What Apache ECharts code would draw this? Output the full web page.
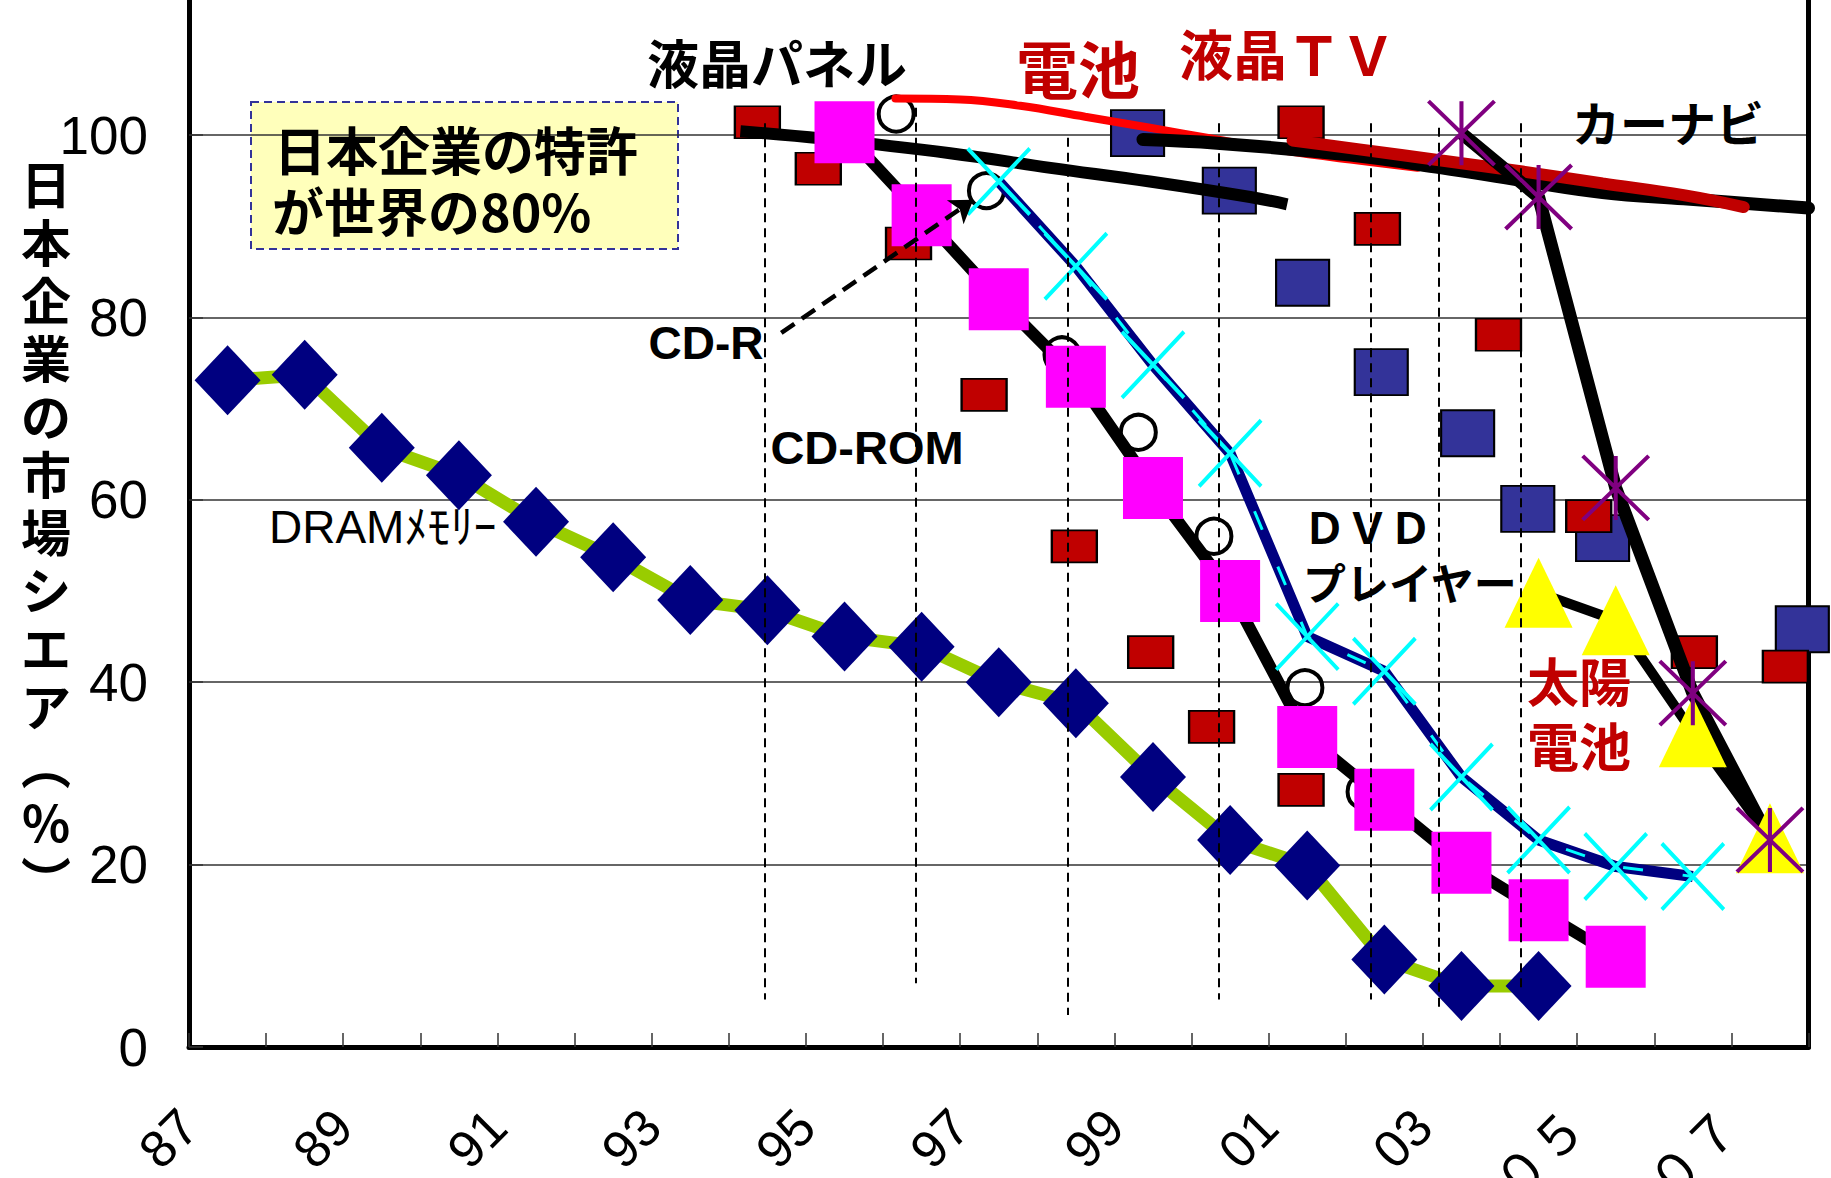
<!DOCTYPE html>
<html><head><meta charset="utf-8">
<script src="https://cdn.jsdelivr.net/npm/echarts@6/dist/echarts.min.js"></script>
<style>html,body{margin:0;padding:0;background:#fff}#c{width:1831px;height:1178px}</style>
</head><body><div id="c"></div>
<script>
// ---------- data ----------
const YEAR0 = 1986.5;               // left edge of the "87" slot on the x axis
const xTickLabels = ['87','89','91','93','95','97','99','01','03','０５','０７'];
const yTickLabels = ['0','20','40','60','80','100'];
const yAxisTitle = ['日','本','企','業','の','市','場','シ','エ','ア','︵','%','︶'];

const dramYears  = [1987,1988,1989,1990,1991,1992,1993,1994,1995,1996,1997,1998,1999,2000,2001,2002,2003,2004];
const dramShare  = [73.1,73.7,65.7,62.7,57.6,53.7,49.0,47.9,45.0,43.9,40.0,37.7,29.6,22.7,19.9,9.6,6.7,6.7];

const cdromYears = [1995,1996,1997,1998,1999,2000,2001,2002,2003,2004,2005];
const cdromShare = [100.3,91.2,82.0,73.5,61.3,50.0,34.0,27.1,20.2,15.0,9.9];

const dvdYears   = [1997,1998,1999,2000,2001,2002,2003,2004,2005,2006];
const dvdShare   = [94.9,85.6,74.8,65.1,45.0,41.2,29.6,22.7,19.8,18.7];

const naviYears  = [2003,2004,2005,2006,2007];
const naviShare  = [100.2,93.2,61.3,38.8,22.7];

const solarYears = [2004,2005,2006,2007];
const solarShare = [49.8,46.8,34.5,22.9];

const cdrYears   = [1995.67,1996.84,1997.82,1998.81,1999.79,2000.97,2001.75];
const cdrShare   = [102.3,93.9,75.9,67.4,56.0,39.4,28.0];

const redSqYears = [1993.87,1994.66,1995.83,1996.81,1997.98,1998.97,1999.76,2000.92,2000.92,2001.91,2003.48,2004.65,2006.02,2007.20];
const redSqShare = [101.4,96.3,88.1,71.5,54.9,43.3,35.1,28.2,101.4,89.7,78.1,58.2,43.3,41.7];

const blueSqYears = [1998.80,1999.99,2000.94,2001.96,2003.08,2003.86,2004.83,2007.42];
const blueSqShare = [100.2,93.9,83.8,74.0,67.3,59.0,55.8,45.8];

const lcdPanelYears = [1993.65,1994.72,1996.37,1997.67,1998.96,2000.26,2000.74];
const lcdPanelShare = [100.4,99.6,98.0,96.4,94.9,93.2,92.4];

const batteryYears = [1995.66,1996.5,1997.28,1998.12,1998.96,1999.83,2000.69,2001.56,2002.43];
const batteryShare = [104.0,103.9,103.2,102.0,100.8,99.5,98.3,97.3,96.4];

const naviFlatYears = [1998.87,1999.83,2001.56,2002.74,2003.79,2004.83,2005.88,2007.5];
const naviFlatShare = [99.5,99.1,97.8,96.4,95.0,93.7,93.0,92.0];

const lcdTvYears = [2000.81,2001.7,2002.74,2003.79,2004.83,2005.88,2006.66];
const lcdTvShare = [99.4,98.4,97.2,96.0,94.7,93.4,92.1];

const guideYears  = [1993.96,1995.93,1997.89,1999.85,2001.82,2002.70,2003.77];
const guideTop    = [101.3,103.0,99.7,101.3,101.3,100.8,101.3];
const guideBottom = [5.2,7.0,3.5,5.2,5.2,4.4,5.9];

const cdrArrowFrom = [1994.18, 78.3];
const cdrArrowTo   = [1996.67, 92.9];

// ---------- helpers ----------
const pts = (xs, ys) => xs.map((x, i) => [x - YEAR0, ys[i]]);
const CJK = '"Noto Sans CJK JP", "Noto Sans", sans-serif';
const NUM = '"Liberation Sans", Arial, "Noto Sans CJK JP", sans-serif';
const LAT = '"Liberation Sans", Arial, "Noto Sans CJK JP", sans-serif';
const X_PATH = 'path://M0 0L10 10M10 0L0 10';
const STAR_PATH = 'path://M0 0L10 10M10 0L0 10M5 0L5 10';

const chart = echarts.init(document.getElementById('c'), null, {renderer: 'svg'});

const txt = (text, x, y, size, color, family, weight, align) => ({
  type: 'text', x: x, y: y, z: 50,
  style: {text: text, fontSize: size, fontWeight: weight || 'bold', fontFamily: family || CJK,
          fill: color || '#000', align: align || 'center', verticalAlign: 'middle', lineHeight: size * 1.1}
});

const option = {
  animation: false,
  backgroundColor: '#fff',
  grid: {left: 189, right: 22.5, top: -47.4, bottom: 131, containLabel: false, outerBoundsMode: 'none'},
  xAxis: {
    type: 'value', min: 0, max: 21, interval: 1,
    axisLine: {show: true, onZero: false, lineStyle: {color: '#000', width: 5}},
    axisTick: {show: true, inside: true, length: 14, lineStyle: {color: '#333', width: 1.5}},
    splitLine: {show: false},
    axisLabel: {
      rotate: 45, margin: 71, fontSize: 52, fontFamily: NUM, color: '#000',
      formatter: v => (v % 2 === 0 && v / 2 < xTickLabels.length) ? xTickLabels[v / 2] : ''
    }
  },
  yAxis: [{
    type: 'value', min: 0, max: 120, interval: 20,
    axisLine: {show: true, lineStyle: {color: '#000', width: 5}},
    axisTick: {show: true, inside: true, length: 14, lineStyle: {color: '#333', width: 1.5}},
    splitLine: {show: true, lineStyle: {color: '#333', width: 1.5}},
    axisLabel: {margin: 41, fontSize: 53, fontFamily: NUM, color: '#000',
                formatter: v => yTickLabels[v / 20] || ''}
  }, {
    type: 'value', min: 0, max: 120, interval: 20, position: 'right',
    axisLine: {show: true, lineStyle: {color: '#000', width: 5}},
    axisTick: {show: false}, axisLabel: {show: false}, splitLine: {show: false}
  }],
  graphic: [
    {type: 'text', x: 46, y: 153, z: 50,
     style: {text: yAxisTitle.join('\n'), fontSize: 50, fontWeight: 'bold', fontFamily: CJK, fill: '#000',
             align: 'center', verticalAlign: 'top', lineHeight: 58}},
    {type: 'rect', z: -1, shape: {x: 251, y: 102, width: 427, height: 147},
     style: {fill: '#FFFFBB', stroke: '#333399', lineWidth: 2, lineDash: [8, 5]}},
    txt('日本企業の特許', 274, 148, 52, '#000', CJK, 'bold', 'left'),
    txt('が世界の80%', 272, 209, 52, '#000', CJK, 'bold', 'left'),
    txt('液晶パネル', 777, 61, 52),
    txt('電池', 1078, 67, 62, '#C00000'),
    txt('液晶ＴＶ', 1287, 52, 54, '#C00000'),
    txt('カーナビ', 1668, 121, 48),
    txt('CD-R', 706, 343, 46, '#000', LAT),
    txt('CD-ROM', 867, 447, 47, '#000', LAT),
    txt('DRAMﾒﾓﾘｰ', 269, 527, 46, '#000', NUM, 'normal', 'left'),
    txt('ＤＶＤ', 1303, 525, 43, '#000', CJK, 'bold', 'left'),
    txt('プレイヤー', 1303, 581, 43, '#000', CJK, 'bold', 'left'),
    txt('太陽', 1579, 679, 52, '#C00000'),
    txt('電池', 1579, 744, 52, '#C00000')
  ],
  series: [
    { // vertical dashed guides + CD-R arrow
      type: 'line', data: [], silent: true,
      markLine: {
        silent: true, symbol: 'none', label: {show: false}, animation: false,
        lineStyle: {color: '#000', width: 2, type: [9, 6]},
        data: guideYears.map((g, i) => [
          {coord: [g - YEAR0, guideTop[i]]}, {coord: [g - YEAR0, guideBottom[i]]}
        ]).concat([[
          {coord: [cdrArrowFrom[0] - YEAR0, cdrArrowFrom[1]], symbol: 'none',
           lineStyle: {color: '#000', width: 4.5, type: [16, 9]}},
          {coord: [cdrArrowTo[0] - YEAR0, cdrArrowTo[1]], symbol: 'arrow', symbolSize: 22}
        ]])
      }
    },
    {name: 'blueSq', type: 'scatter', data: pts(blueSqYears, blueSqShare), symbol: 'rect', symbolSize: [53, 46],
     itemStyle: {color: '#333399', borderColor: '#000', borderWidth: 2, opacity: 1}},
    {name: 'DRAM', type: 'line', data: pts(dramYears, dramShare), symbol: 'diamond', symbolSize: [66, 70],
     showAllSymbol: true, lineStyle: {color: '#99CC00', width: 13}, itemStyle: {color: '#000080', borderWidth: 0}},
    {name: 'CD-ROM', type: 'line', data: pts(cdromYears, cdromShare), symbol: 'rect', symbolSize: [60, 62],
     showAllSymbol: true, lineStyle: {color: '#000', width: 12}, itemStyle: {color: '#FF00FF', borderWidth: 0}},
    {name: 'redSq', type: 'scatter', data: pts(redSqYears, redSqShare), symbol: 'rect', symbolSize: [45, 32],
     itemStyle: {color: '#C00000', borderColor: '#000', borderWidth: 2, opacity: 1}},
    {name: 'CD-R', type: 'scatter', data: pts(cdrYears, cdrShare), symbol: 'circle', symbolSize: 35,
     itemStyle: {color: 'rgba(0,0,0,0)', borderColor: '#000', borderWidth: 4, opacity: 1}},
    {name: 'DVDnavy', type: 'line', data: pts(dvdYears, dvdShare), showSymbol: false,
     lineStyle: {color: '#000080', width: 11, join: 'round'}},
    {name: 'DVD', type: 'line', data: pts(dvdYears, dvdShare), symbol: X_PATH, symbolSize: [62, 66],
     showAllSymbol: true, lineStyle: {color: '#00FFFF', width: 3, type: [20, 40]},
     itemStyle: {color: 'none', borderColor: '#00FFFF', borderWidth: 4}},
    {name: 'LCDpanel', type: 'line', data: pts(lcdPanelYears, lcdPanelShare), showSymbol: false, smooth: 0.4,
     lineStyle: {color: '#000', width: 12, cap: 'butt'}},
    {name: 'battery', type: 'line', data: pts(batteryYears, batteryShare), showSymbol: false, smooth: 0.4,
     lineStyle: {color: '#FF0000', width: 8, cap: 'round'}},
    {name: 'naviFlat', type: 'line', data: pts(naviFlatYears, naviFlatShare), showSymbol: false, smooth: 0.4,
     lineStyle: {color: '#000', width: 13, cap: 'round'}},
    {name: 'LCDTV', type: 'line', data: pts(lcdTvYears, lcdTvShare), showSymbol: false, smooth: 0.4,
     lineStyle: {color: '#C00000', width: 12, cap: 'round'}},
    {name: 'solar', type: 'line', data: pts(solarYears, solarShare), symbol: 'triangle', symbolSize: [68, 70],
     showAllSymbol: true, lineStyle: {color: '#000', width: 10}, itemStyle: {color: '#FFFF00', borderWidth: 0}},
    {name: 'navi', type: 'line', data: pts(naviYears, naviShare), symbol: STAR_PATH, symbolSize: [66, 64],
     showAllSymbol: true, lineStyle: {color: '#000', width: 13}, itemStyle: {color: 'none', borderColor: '#800080', borderWidth: 4}}
  ]
};
chart.setOption(option);
</script>
</body></html>
